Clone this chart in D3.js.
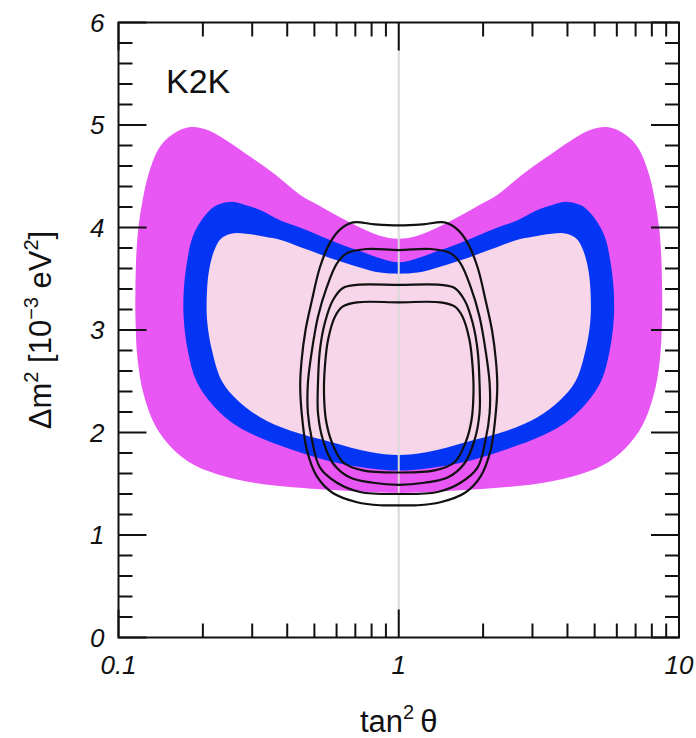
<!DOCTYPE html>
<html>
<head>
<meta charset="utf-8">
<script src="https://cdn.jsdelivr.net/npm/d3@7"></script>
<style>
  html, body { margin: 0; padding: 0; background: #fff; }
  svg { display: block; }
  text { font-family: "Liberation Sans", Arial, Helvetica, sans-serif; fill: #111; }
</style>
</head>
<body>
<svg id="chart" width="696" height="738"></svg>
<script>
// K2K allowed regions in the (tan²θ, Δm²) plane; Δm² in units of 1e-3 eV².
// Each region is a closed contour listed as [tan²θ, Δm²] pairs.
const region90 = [
  [1.0,1.41],[0.670,1.43],[0.444,1.46],[0.320,1.50],[0.240,1.57],[0.187,1.68],[0.155,1.85],
  [0.135,2.07],[0.123,2.37],[0.117,2.71],[0.115,3.10],[0.115,3.46],[0.116,3.78],[0.118,4.02],
  [0.122,4.27],[0.128,4.52],[0.140,4.78],[0.156,4.91],[0.180,4.98],[0.209,4.95],[0.246,4.84],
  [0.299,4.68],[0.365,4.51],[0.444,4.32],[0.523,4.21],[0.617,4.10],[0.727,4.00],[0.857,3.92],
  [1.0,3.89],
  [1.167,3.92],[1.376,4.00],[1.621,4.10],[1.912,4.21],[2.252,4.32],[2.740,4.51],[3.344,4.68],
  [4.065,4.84],[4.785,4.95],[5.556,4.98],[6.410,4.91],[7.135,4.78],[7.813,4.52],[8.197,4.27],
  [8.475,4.02],[8.621,3.78],[8.696,3.46],[8.696,3.10],[8.547,2.71],[8.130,2.37],[7.407,2.07],
  [6.452,1.85],[5.348,1.68],[4.167,1.57],[3.125,1.50],[2.252,1.46],[1.493,1.43]
];
const region68 = [
  [1.0,1.63],[0.789,1.65],[0.568,1.72],[0.409,1.84],[0.307,1.97],[0.250,2.11],[0.212,2.30],
  [0.189,2.51],[0.177,2.79],[0.171,3.10],[0.171,3.39],[0.176,3.68],[0.184,3.91],[0.200,4.09],
  [0.221,4.21],[0.250,4.25],[0.283,4.22],[0.320,4.17],[0.377,4.07],[0.444,4.00],[0.523,3.92],
  [0.617,3.84],[0.727,3.77],[0.857,3.70],[1.0,3.66],
  [1.167,3.70],[1.376,3.77],[1.621,3.84],[1.912,3.92],[2.252,4.00],[2.653,4.07],[3.125,4.17],
  [3.534,4.22],[4.0,4.25],[4.525,4.21],[5.0,4.09],[5.435,3.91],[5.682,3.68],[5.848,3.39],
  [5.848,3.10],[5.650,2.79],[5.291,2.51],[4.717,2.30],[4.0,2.11],[3.257,1.97],[2.445,1.84],
  [1.761,1.72],[1.267,1.65]
];
const regionCore = [
  [1.0,1.78],[0.789,1.81],[0.568,1.91],[0.409,2.02],[0.320,2.15],[0.267,2.31],[0.234,2.50],
  [0.216,2.79],[0.207,3.10],[0.207,3.39],[0.211,3.60],[0.220,3.78],[0.232,3.89],[0.252,3.94],
  [0.285,3.94],[0.333,3.91],[0.377,3.88],[0.444,3.81],[0.523,3.74],[0.617,3.67],[0.727,3.61],
  [0.857,3.56],[1.0,3.55],
  [1.167,3.56],[1.376,3.61],[1.621,3.67],[1.912,3.74],[2.252,3.81],[2.653,3.88],[3.003,3.91],
  [3.509,3.94],[3.968,3.94],[4.310,3.89],[4.545,3.78],[4.739,3.60],[4.831,3.39],[4.831,3.10],
  [4.630,2.79],[4.274,2.50],[3.745,2.31],[3.125,2.15],[2.445,2.02],[1.761,1.91],[1.267,1.81]
];

// Overlaid contour lines (outermost to innermost)
const contourA = [
  [1.0,1.29],[0.857,1.29],[0.710,1.32],[0.582,1.41],[0.511,1.57],[0.470,1.83],[0.452,2.15],
  [0.445,2.45],[0.450,2.70],[0.465,3.00],[0.490,3.29],[0.523,3.61],[0.568,3.85],[0.617,3.98],
  [0.687,4.05],[0.822,4.03],[1.0,4.02],
  [1.217,4.03],[1.456,4.05],[1.621,3.98],[1.761,3.85],[1.912,3.61],[2.041,3.29],[2.151,3.00],
  [2.222,2.70],[2.247,2.45],[2.212,2.15],[2.128,1.83],[1.957,1.57],[1.718,1.41],[1.408,1.32],
  [1.167,1.29]
];
const contourB = [
  [1.0,1.40],[0.727,1.42],[0.602,1.51],[0.523,1.66],[0.490,1.93],[0.474,2.19],[0.474,2.48],
  [0.490,2.80],[0.515,3.13],[0.554,3.42],[0.602,3.65],[0.654,3.75],[0.770,3.79],[1.0,3.78],
  [1.299,3.79],[1.529,3.75],[1.661,3.65],[1.805,3.42],[1.942,3.13],[2.041,2.80],[2.110,2.48],
  [2.110,2.19],[2.041,1.93],[1.912,1.66],[1.661,1.51],[1.376,1.42]
];
const contourC = [
  [1.0,1.49],[0.809,1.51],[0.670,1.56],[0.582,1.70],[0.536,1.93],[0.515,2.19],[0.515,2.48],
  [0.523,2.80],[0.545,3.07],[0.582,3.29],[0.632,3.41],[0.710,3.44],[1.0,3.44],[1.408,3.44],
  [1.582,3.41],[1.718,3.29],[1.835,3.07],[1.912,2.80],[1.942,2.48],[1.942,2.19],[1.866,1.93],
  [1.718,1.70],[1.493,1.56],[1.236,1.51]
];
const contourD = [
  [1.0,1.61],[0.745,1.63],[0.632,1.71],[0.578,1.90],[0.550,2.12],[0.541,2.39],[0.545,2.64],
  [0.559,2.90],[0.592,3.13],[0.632,3.23],[0.710,3.27],[1.0,3.27],[1.408,3.27],[1.582,3.23],
  [1.689,3.13],[1.789,2.90],[1.835,2.64],[1.848,2.39],[1.818,2.12],[1.730,1.90],[1.582,1.71],
  [1.342,1.63]
];

const xMajorTicks = [0.1, 1, 10];
const xMinorTicks = [0.2,0.3,0.4,0.5,0.6,0.7,0.8,0.9,2,3,4,5,6,7,8,9];
const xTickLabels = ["0.1", "1", "10"];
const yMajorTicks = [0, 1, 2, 3, 4, 5, 6];
const yMinorTicks = d3.range(1, 30).filter(i => i % 5 !== 0).map(i => i / 5);
const experimentLabel = "K2K";

const svg = d3.select("#chart");
const plotL = 118.5, plotR = 679, plotT = 22.5, plotB = 637.5;

const x = d3.scaleLog().domain([0.1, 10]).range([plotL, plotR]);
const y = d3.scaleLinear().domain([0, 6]).range([plotB, plotT]);

const area = d3.line()
  .x(d => x(d[0]))
  .y(d => y(d[1]))
  .curve(d3.curveCatmullRomClosed.alpha(0.5));

svg.append("rect").attr("width", 696).attr("height", 738).attr("fill", "#fff");

const plot = svg.append("g");
plot.append("path").attr("d", area(region90)).attr("fill", "#e856f4");
plot.append("path").attr("d", area(region68)).attr("fill", "#0435f4");
plot.append("path").attr("d", area(regionCore)).attr("fill", "#f6d6e8");

// maximal-mixing guide line
plot.append("line")
  .attr("x1", x(1)).attr("x2", x(1))
  .attr("y1", plotT).attr("y2", plotB)
  .attr("stroke", "#d8d8d8").attr("stroke-width", 2);

[contourA, contourB, contourC, contourD].forEach(c => {
  plot.append("path")
    .attr("d", area(c))
    .attr("fill", "none")
    .attr("stroke", "#111")
    .attr("stroke-width", 2.2);
});

// Frame with inward ticks on all four sides
const frame = svg.append("g").attr("stroke", "#111").attr("stroke-width", 2);
const majorLen = 28, minorLen = 14;

xMajorTicks.concat(xMinorTicks).forEach(v => {
  const len = xMajorTicks.includes(v) ? majorLen : minorLen;
  frame.append("line").attr("x1", x(v)).attr("x2", x(v)).attr("y1", plotB).attr("y2", plotB - len);
  frame.append("line").attr("x1", x(v)).attr("x2", x(v)).attr("y1", plotT).attr("y2", plotT + len);
});
yMajorTicks.concat(yMinorTicks).forEach(v => {
  const len = yMajorTicks.includes(v) ? majorLen : minorLen;
  frame.append("line").attr("x1", plotL).attr("x2", plotL + len).attr("y1", y(v)).attr("y2", y(v));
  frame.append("line").attr("x1", plotR).attr("x2", plotR - len).attr("y1", y(v)).attr("y2", y(v));
});
frame.append("rect")
  .attr("x", plotL).attr("y", plotT)
  .attr("width", plotR - plotL).attr("height", plotB - plotT)
  .attr("fill", "none");

// Tick labels
const tickFont = 26;
svg.append("g").selectAll("text").data(yMajorTicks).join("text")
  .attr("x", plotL - 14)
  .attr("y", d => y(d) + 9)
  .attr("text-anchor", "end")
  .attr("font-style", "italic")
  .attr("font-size", tickFont)
  .text(d => d);

svg.append("g").selectAll("text").data(xMajorTicks).join("text")
  .attr("x", d => x(d))
  .attr("y", 674)
  .attr("text-anchor", "middle")
  .attr("font-style", "italic")
  .attr("font-size", tickFont)
  .text((d, i) => xTickLabels[i]);

// Axis titles
const xt = svg.append("text")
  .attr("x", x(1)).attr("y", 732)
  .attr("text-anchor", "middle")
  .attr("font-size", 31);
xt.append("tspan").text("tan");
xt.append("tspan").attr("dy", -13).attr("font-size", 20).text("2");
xt.append("tspan").attr("dy", 13).text("\u2009θ");

const yt = svg.append("text")
  .attr("transform", "translate(51,330) rotate(-90)")
  .attr("text-anchor", "middle")
  .attr("font-size", 31);
yt.append("tspan").text("Δm");
yt.append("tspan").attr("dy", -13).attr("font-size", 20).text("2");
yt.append("tspan").attr("dy", 13).text(" [10");
yt.append("tspan").attr("dy", -13).attr("font-size", 20).text("−3");
yt.append("tspan").attr("dy", 13).text(" eV");
yt.append("tspan").attr("dy", -13).attr("font-size", 20).text("2");
yt.append("tspan").attr("dy", 13).text("]");

svg.append("text")
  .attr("x", 166).attr("y", 93)
  .attr("font-size", 34)
  .text(experimentLabel);
</script>
</body>
</html>
